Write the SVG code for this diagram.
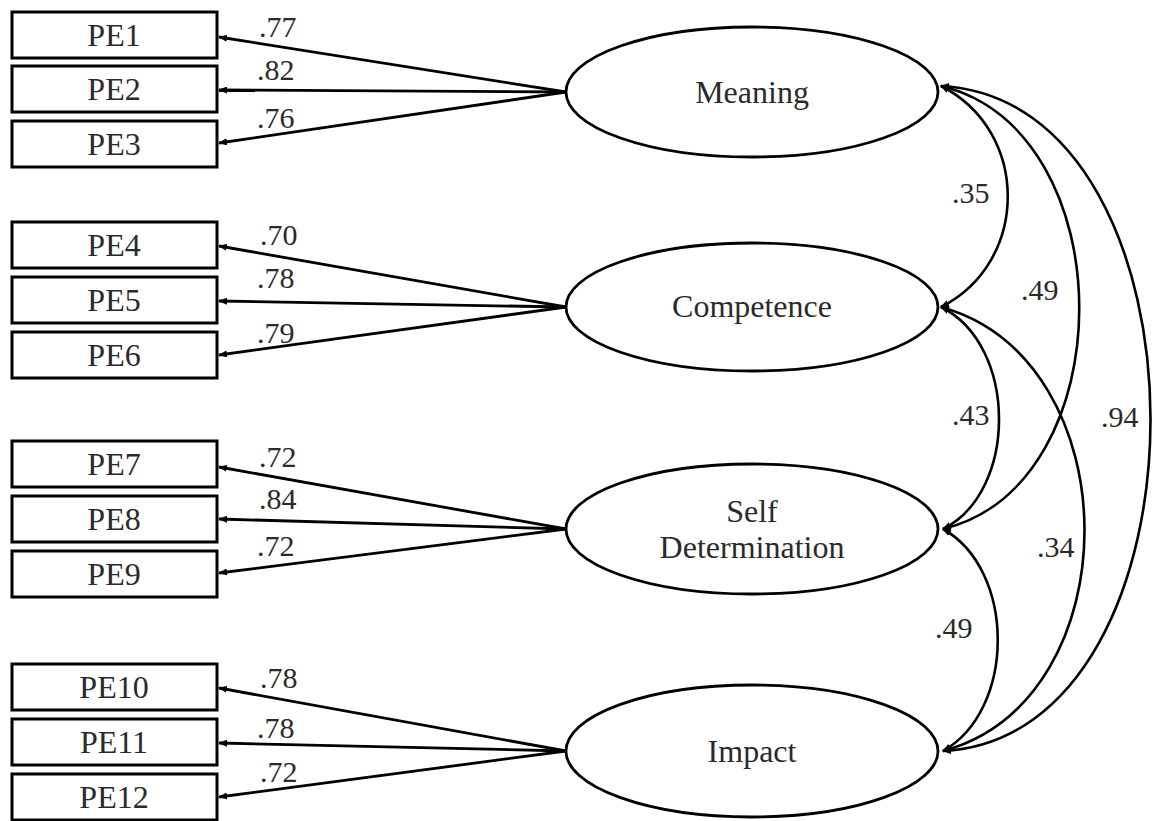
<svg xmlns="http://www.w3.org/2000/svg" width="1156" height="821" viewBox="0 0 1156 821">
<style>
.box{fill:#fff;stroke:#000;stroke-width:3}
.ell{fill:#fff;stroke:#000;stroke-width:2.8}
.lbl{font-family:"Liberation Serif","Times New Roman",serif;font-size:32px;fill:#2a2a2a;text-anchor:middle}
.coef{font-family:"Liberation Serif","Times New Roman",serif;font-size:30px;fill:#2a2a2a}
.ld{stroke:#000;stroke-width:2.8;fill:none;marker-end:url(#ah)}
.cv{stroke:#000;stroke-width:2.6;fill:none;marker-start:url(#ah);marker-end:url(#ah)}
</style>
<defs>
<marker id="ah" markerUnits="userSpaceOnUse" markerWidth="9" markerHeight="7" refX="8" refY="3.5" orient="auto-start-reverse">
<path d="M0,0 L9,3.5 L0,7 z" fill="#000"/>
</marker>
</defs>
<rect width="1156" height="821" fill="#fff"/>

<g id="connectors">
<line class="ld" x1="566" y1="92" x2="219" y2="37"/>
<line class="ld" x1="566" y1="92" x2="219" y2="90"/>
<line class="ld" x1="566" y1="92" x2="219" y2="143"/>
<line class="ld" x1="566" y1="307" x2="219" y2="246"/>
<line class="ld" x1="566" y1="307" x2="219" y2="301"/>
<line class="ld" x1="566" y1="307" x2="219" y2="355"/>
<line class="ld" x1="566" y1="529" x2="219" y2="467"/>
<line class="ld" x1="566" y1="529" x2="219" y2="519"/>
<line class="ld" x1="566" y1="529" x2="219" y2="573"/>
<line class="ld" x1="566" y1="751" x2="219" y2="688"/>
<line class="ld" x1="566" y1="751" x2="219" y2="743"/>
<line class="ld" x1="566" y1="751" x2="219" y2="797"/>
<path class="cv" d="M941,86 C1030,131 1030,262 941,307"/>
<path class="cv" d="M941,86 C1125,130 1125,485 943,529"/>
<path class="cv" d="M941,86 C1220,100 1220,737 943,751"/>
<path class="cv" d="M941,307 C1018,345 1018,492 943,529"/>
<path class="cv" d="M941,307 C1132,360 1132,700 943,751"/>
<path class="cv" d="M943,529 C1016,570 1016,710 943,751"/>
<text class="coef" x="259" y="37">.77</text>
<text class="coef" x="257" y="80">.82</text>
<text class="coef" x="257" y="128">.76</text>
<text class="coef" x="260" y="245">.70</text>
<text class="coef" x="257" y="288">.78</text>
<text class="coef" x="257" y="343">.79</text>
<text class="coef" x="259" y="467">.72</text>
<text class="coef" x="259" y="509">.84</text>
<text class="coef" x="257" y="556">.72</text>
<text class="coef" x="260" y="688">.78</text>
<text class="coef" x="257" y="738">.78</text>
<text class="coef" x="260" y="782">.72</text>
<text class="coef" x="952" y="203">.35</text>
<text class="coef" x="1021" y="300">.49</text>
<text class="coef" x="1101" y="427">.94</text>
<text class="coef" x="952" y="425">.43</text>
<text class="coef" x="1037" y="557">.34</text>
<text class="coef" x="935" y="638">.49</text>
</g>

<g id="PE1"><rect class="box" x="12" y="12" width="205" height="46"/><text class="lbl" x="114" y="46">PE1</text></g>
<g id="PE2"><rect class="box" x="12" y="66" width="205" height="46"/><text class="lbl" x="114" y="100">PE2</text></g>
<g id="PE3"><rect class="box" x="12" y="121" width="205" height="46"/><text class="lbl" x="114" y="155">PE3</text></g>
<g id="PE4"><rect class="box" x="12" y="222" width="205" height="46"/><text class="lbl" x="114" y="256">PE4</text></g>
<g id="PE5"><rect class="box" x="12" y="277" width="205" height="46"/><text class="lbl" x="114" y="311">PE5</text></g>
<g id="PE6"><rect class="box" x="12" y="332" width="205" height="46"/><text class="lbl" x="114" y="366">PE6</text></g>
<g id="PE7"><rect class="box" x="12" y="441" width="205" height="46"/><text class="lbl" x="114" y="475">PE7</text></g>
<g id="PE8"><rect class="box" x="12" y="496" width="205" height="46"/><text class="lbl" x="114" y="530">PE8</text></g>
<g id="PE9"><rect class="box" x="12" y="551" width="205" height="46"/><text class="lbl" x="114" y="585">PE9</text></g>
<g id="PE10"><rect class="box" x="12" y="664" width="205" height="46"/><text class="lbl" x="114" y="698">PE10</text></g>
<g id="PE11"><rect class="box" x="12" y="719" width="205" height="46"/><text class="lbl" x="114" y="753">PE11</text></g>
<g id="PE12"><rect class="box" x="12" y="774" width="205" height="46"/><text class="lbl" x="114" y="808">PE12</text></g>

<g id="Meaning"><ellipse class="ell" cx="752" cy="92" rx="186" ry="65"/><text class="lbl" x="752" y="103">Meaning</text></g>
<g id="Competence"><ellipse class="ell" cx="752" cy="307" rx="186" ry="64"/><text class="lbl" x="752" y="317">Competence</text></g>
<g id="SelfDetermination"><ellipse class="ell" cx="752" cy="529" rx="186" ry="65"/><text class="lbl" x="752" y="522">Self</text><text class="lbl" x="752" y="558">Determination</text></g>
<g id="Impact"><ellipse class="ell" cx="752" cy="751" rx="186" ry="66"/><text class="lbl" x="752" y="762">Impact</text></g>
</svg>
